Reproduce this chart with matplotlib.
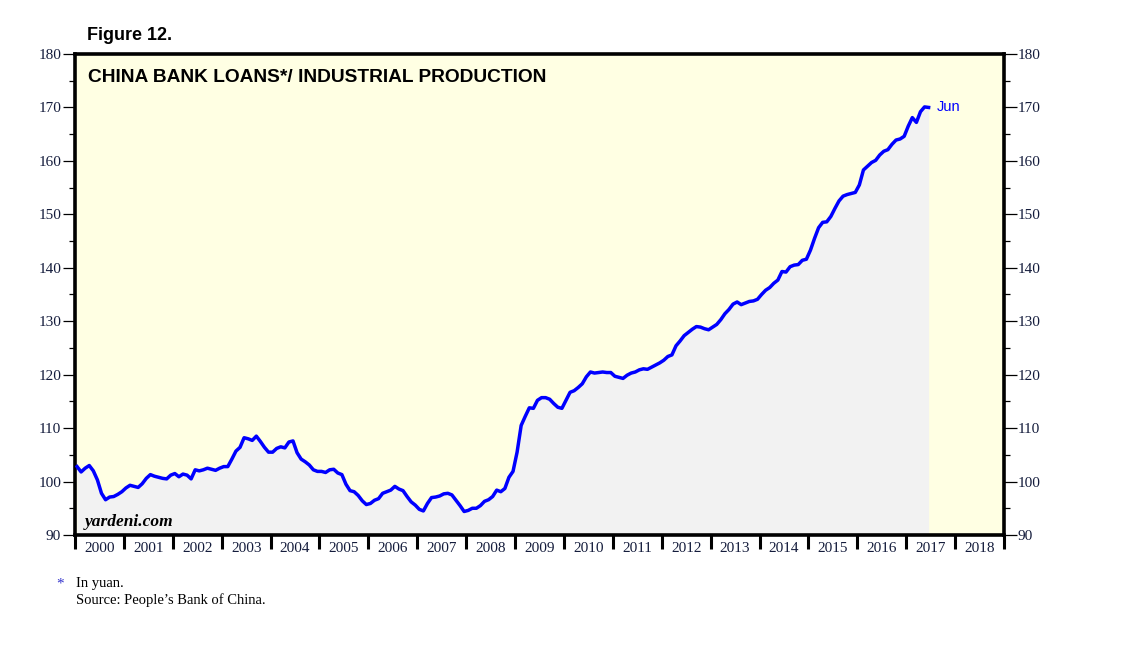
import matplotlib
matplotlib.use("Agg")
import matplotlib.pyplot as plt
import numpy as np

# Monthly values, Jan 2000 .. Jun 2017
v2000 = [102.8, 101.8, 102.5, 103.0, 102.0, 100.3, 97.8, 96.6, 97.1, 97.2, 97.6, 98.1]
v2001 = [98.8, 99.3, 99.1, 98.9, 99.6, 100.6, 101.3, 101.0, 100.8, 100.6, 100.5, 101.2]
v2002 = [101.5, 100.9, 101.4, 101.2, 100.5, 102.2, 102.0, 102.2, 102.5, 102.3, 102.1, 102.5]
v2003 = [102.8, 102.8, 104.2, 105.7, 106.4, 108.2, 108.0, 107.7, 108.5, 107.5, 106.4, 105.5]
v2004 = [105.5, 106.2, 106.5, 106.3, 107.4, 107.6, 105.4, 104.2, 103.7, 103.1, 102.2, 101.9]
v2005 = [101.9, 101.7, 102.2, 102.3, 101.6, 101.3, 99.5, 98.3, 98.1, 97.4, 96.4, 95.7]
v2006 = [95.9, 96.5, 96.8, 97.8, 98.1, 98.4, 99.1, 98.6, 98.3, 97.2, 96.2, 95.6]
v2007 = [94.8, 94.5, 95.9, 97.0, 97.1, 97.3, 97.7, 97.8, 97.5, 96.5, 95.5, 94.4]
v2008 = [94.6, 95.0, 95.0, 95.5, 96.3, 96.6, 97.2, 98.4, 98.1, 98.7, 100.8, 101.9]
v2009 = [105.5, 110.5, 112.2, 113.8, 113.7, 115.2, 115.7, 115.7, 115.4, 114.6, 113.9, 113.7]
v2010 = [115.2, 116.7, 117.0, 117.6, 118.3, 119.6, 120.5, 120.3, 120.4, 120.5, 120.4, 120.4]
v2011 = [119.7, 119.5, 119.3, 119.9, 120.3, 120.5, 120.9, 121.1, 121.0, 121.4, 121.8, 122.2]
v2012 = [122.7, 123.4, 123.7, 125.4, 126.3, 127.3, 127.9, 128.5, 129.0, 128.9, 128.6, 128.4]
v2013 = [128.9, 129.4, 130.3, 131.4, 132.2, 133.2, 133.6, 133.1, 133.4, 133.7, 133.8, 134.1]
v2014 = [135.0, 135.8, 136.3, 137.1, 137.7, 139.3, 139.2, 140.2, 140.5, 140.6, 141.4, 141.6]
v2015 = [143.3, 145.5, 147.5, 148.5, 148.6, 149.6, 151.1, 152.5, 153.4, 153.7, 153.9, 154.1]
v2016 = [155.5, 158.3, 159.0, 159.7, 160.1, 161.1, 161.8, 162.1, 163.1, 163.9, 164.1, 164.6]
v2017 = [166.5, 168.1, 167.2, 169.2, 170.1, 170.0]

values = (v2000 + v2001 + v2002 + v2003 + v2004 + v2005 + v2006 + v2007 + v2008
          + v2009 + v2010 + v2011 + v2012 + v2013 + v2014 + v2015 + v2016 + v2017)
start_year = 2000
years = list(range(2000, 2019))
yticks = list(range(90, 181, 10))

SERIF = ["Liberation Serif", "DejaVu Serif"]
SANS = ["Liberation Sans", "DejaVu Sans"]
LABEL_COLOR = "#141c3c"

x = start_year + (np.arange(len(values)) + 0.5) / 12.0
y = np.array(values)

fig = plt.figure(figsize=(11.38, 6.49), dpi=100)
fig.patch.set_facecolor("white")
ax = fig.add_axes([75 / 1138, 1 - 535 / 649, (1004 - 75) / 1138, (535 - 54) / 649])
ax.set_facecolor("#FFFFE3")

ax.fill_between(x, 90, y, color="#F2F2F2", linewidth=0, zorder=1)
ax.fill_between([x[0] - 0.5 / 12, x[0]], 90, [y[0], y[0]], color="#F2F2F2", linewidth=0, zorder=1)
ax.plot(x, y, color="#0000FF", linewidth=2.5, zorder=3, solid_joinstyle="round")

ax.set_xlim(2000, 2019)
ax.set_ylim(90, 180)

for s in ax.spines.values():
    s.set_linewidth(2.6)
    s.set_color("black")

# y ticks both sides
ax.set_yticks(yticks)
ax.set_yticks(list(range(95, 180, 10)), minor=True)
ax.tick_params(axis="y", which="major", direction="out", length=9, width=0.9,
               left=True, right=True, labelleft=True, labelright=True, pad=1,
               labelsize=11, labelcolor=LABEL_COLOR)
ax.tick_params(axis="y", which="minor", direction="out", length=4, width=0.9,
               left=True, right=True)
for lab in ax.get_yticklabels():
    lab.set_fontfamily(SERIF)

# x ticks at year boundaries, labels at mid-year
ax.set_xticks([yr for yr in years] + [2019])
ax.set_xticklabels([])
ax.set_xticks([yr + 0.5 for yr in years], minor=True)
ax.set_xticklabels([str(yr) for yr in years], minor=True)
ax.tick_params(axis="x", which="major", direction="out", length=10, width=2.2, bottom=True, top=False)
ax.tick_params(axis="x", which="minor", length=0, pad=5, labelsize=11, labelcolor=LABEL_COLOR)
for lab in ax.get_xticklabels(minor=True):
    lab.set_fontfamily(SERIF)

# texts
ax.text(0.0135, 0.969, "CHINA BANK LOANS*/ INDUSTRIAL PRODUCTION", transform=ax.transAxes,
        fontsize=13.8, fontweight="bold", family=SANS, va="top", ha="left", zorder=5)
ax.text(0.01, 0.01, "yardeni.com", transform=ax.transAxes, fontsize=12.5,
        fontweight="bold", fontstyle="italic", family=SERIF, va="bottom", ha="left", zorder=5)
ax.annotate("Jun", xy=(x[-1], y[-1]), xytext=(6, 0), textcoords="offset points",
            color="#0000FF", fontsize=10.5, family=SANS, va="center", ha="left")

fig.text(87 / 1138, 1 - 36 / 649, "Figure 12.", fontsize=13, fontweight="bold",
         family=SANS, va="center", ha="left")
fig.text(56 / 1138, 1 - 584 / 649, "*", fontsize=11, family=SERIF, color="#3333CC",
         va="center", ha="left")
fig.text(76 / 1138, 1 - 584 / 649, "In yuan.", fontsize=10.5, family=SERIF,
         va="center", ha="left")
fig.text(76 / 1138, 1 - 600 / 649, "Source: People\u2019s Bank of China.", fontsize=10.5,
         family=SERIF, va="center", ha="left")

fig.savefig("out.png", dpi=100)
